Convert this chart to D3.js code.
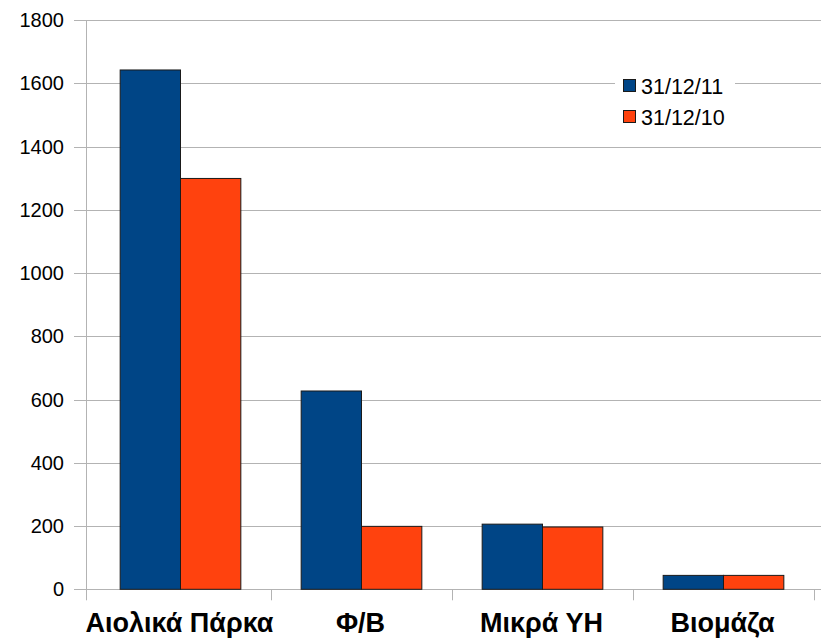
<!DOCTYPE html>
<html><head><meta charset="utf-8">
<script src="https://cdn.jsdelivr.net/npm/d3@7"></script>
<style>html,body{margin:0;padding:0;background:#fff;overflow:hidden}svg{display:block}</style>
</head><body>
<script>
const categories = ["Αιολικά Πάρκα", "Φ/Β", "Μικρά ΥΗ", "Βιομάζα"];
const seriesNames = ["31/12/11", "31/12/10"];
const values2011 = [1642, 627, 206, 44];
const values2010 = [1299, 199, 197, 44];
const yTicks = [0, 200, 400, 600, 800, 1000, 1200, 1400, 1600, 1800];
const colors = ["#004586", "#ff420e"];

const W = 821, H = 638;
const svg = d3.select("body").append("svg").attr("width", W).attr("height", H);
const y = d3.scaleLinear().domain([0, 1800]).range([589.3, 20]);
const x = d3.scaleBand().domain(categories).range([90, 814]).paddingInner(0).paddingOuter(0);
const xs = d3.scaleBand().domain(seriesNames).range([0, x.bandwidth()]).paddingOuter(0.5).paddingInner(0);
const axisX = 86;
const font = "Liberation Sans, Arial, sans-serif";

// gridlines
svg.append("g").selectAll("line").data(yTicks).join("line")
  .attr("x1", 74).attr("x2", W + 10)
  .attr("y1", d => Math.round(y(d)) + 0.5).attr("y2", d => Math.round(y(d)) + 0.5)
  .attr("stroke", "#b3b3b3").attr("stroke-width", 1);

// y axis line
svg.append("line").attr("x1", axisX + 0.5).attr("x2", axisX + 0.5)
  .attr("y1", y(1800)).attr("y2", y(0) + 11)
  .attr("stroke", "#b3b3b3");

// x ticks at band boundaries
const bounds = categories.slice(1).map(c => x(c)).concat([x(categories[categories.length-1]) + x.bandwidth()]);
svg.append("g").selectAll("line").data(bounds).join("line")
  .attr("x1", d => Math.round(d) + 0.5).attr("x2", d => Math.round(d) + 0.5)
  .attr("y1", y(0)).attr("y2", y(0) + 11)
  .attr("stroke", "#b3b3b3");

// y tick labels
svg.append("g").selectAll("text").data(yTicks).join("text")
  .attr("x", 64).attr("y", d => y(d) + 7)
  .attr("text-anchor", "end")
  .attr("font-family", font)
  .attr("font-size", 20).attr("fill", "#000")
  .text(d => d);

// bars
const data = categories.map((c, i) => ({c, vals: [values2011[i], values2010[i]]}));
const g = svg.append("g").selectAll("g").data(data).join("g")
  .attr("transform", d => `translate(${x(d.c)},0)`);
g.selectAll("rect").data(d => d.vals.map((v, k) => ({v, s: seriesNames[k], k}))).join("rect")
  .attr("x", d => xs(d.s)).attr("width", xs.bandwidth())
  .attr("y", d => y(d.v)).attr("height", d => y(0) - y(d.v))
  .attr("fill", d => colors[d.k]).attr("stroke", "#1a1a1a").attr("stroke-width", 1);

// category labels
svg.append("g").selectAll("text").data(categories).join("text")
  .attr("x", d => x(d) + x.bandwidth() / 2 - 1).attr("y", 632)
  .attr("text-anchor", "middle")
  .attr("font-family", font)
  .attr("font-weight", "bold").attr("font-size", 27).attr("fill", "#000")
  .text(d => d);

// legend
const lg = svg.append("g");
lg.append("rect").attr("x", 615).attr("y", 70).attr("width", 120).attr("height", 62).attr("fill", "#fff");
seriesNames.forEach((s, i) => {
  lg.append("rect").attr("x", 623.5).attr("y", 79.5 + i * 31).attr("width", 12).attr("height", 12)
    .attr("fill", colors[i]).attr("stroke", "#1a1a1a");
  lg.append("text").attr("x", 641).attr("y", 93.5 + i * 31)
    .attr("font-family", font)
    .attr("font-size", 21.5).attr("fill", "#000").text(s);
});
</script>
</body></html>
